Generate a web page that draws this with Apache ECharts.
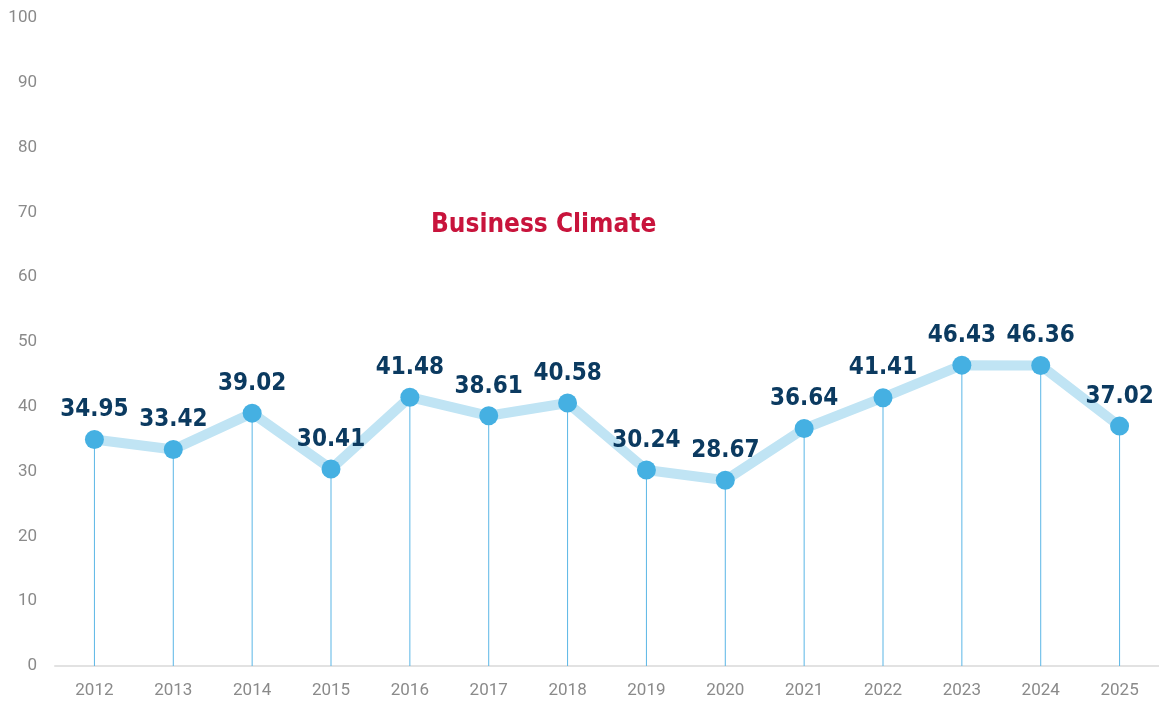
<!DOCTYPE html>
<html>
<head>
<meta charset="utf-8">
<script src="https://cdn.jsdelivr.net/npm/echarts@6/dist/echarts.min.js"></script>
<style>
  html, body { margin: 0; padding: 0; background: #fff; }
  #main { width: 1159px; height: 702px; }
</style>
</head>
<body>
<div id="main"></div>
<script>
// years and index values
var years = ['2012', '2013', '2014', '2015', '2016', '2017', '2018', '2019', '2020', '2021', '2022', '2023', '2024', '2025'];
var scores = [34.95, 33.42, 39.02, 30.41, 41.48, 38.61, 40.58, 30.24, 28.67, 36.64, 41.41, 46.43, 46.36, 37.02];
var chartTitle = 'Business Climate';

var boldFont = "'DejaVu Sans Condensed', 'Liberation Sans Narrow', 'Roboto', sans-serif";
var tickFont = "'Roboto', 'Liberation Sans', sans-serif";

var chart = echarts.init(document.getElementById('main'));

var option = {
  animation: false,
  title: {
    text: chartTitle,
    left: 426,
    top: 207,
    textStyle: {
      fontFamily: boldFont,
      fontWeight: 'bold',
      fontSize: 26,
      color: '#c8143c'
    }
  },
  grid: {
    left: 55,
    right: -2,
    top: 18,
    bottom: 36
  },
  xAxis: {
    type: 'category',
    data: years,
    axisLine: { lineStyle: { color: '#e2e2e2', width: 2 } },
    axisTick: { show: false },
    axisLabel: {
      margin: 16,
      color: '#8a8a8a',
      fontFamily: tickFont,
      fontSize: 17
    }
  },
  yAxis: {
    type: 'value',
    min: 0,
    max: 100,
    interval: 10,
    axisLine: { show: false },
    axisTick: { show: false },
    splitLine: { show: false },
    axisLabel: {
      margin: 18,
      color: '#8a8a8a',
      fontFamily: tickFont,
      fontSize: 17
    }
  },
  series: [
    {
      // thin drop lines from each point to the axis
      type: 'bar',
      data: scores,
      barWidth: 1,
      silent: true,
      itemStyle: { color: '#5ab6e6' }
    },
    {
      type: 'line',
      data: scores,
      symbol: 'circle',
      symbolSize: 19,
      itemStyle: { color: '#45b0e2' },
      lineStyle: { color: '#c0e4f4', width: 10 },
      label: {
        show: true,
        position: 'top',
        distance: 8,
        color: '#0b3a60',
        fontFamily: boldFont,
        fontWeight: 'bold',
        fontSize: 24,
        formatter: function (p) { return p.value.toFixed(2); }
      }
    }
  ]
};

chart.setOption(option);
</script>
</body>
</html>
